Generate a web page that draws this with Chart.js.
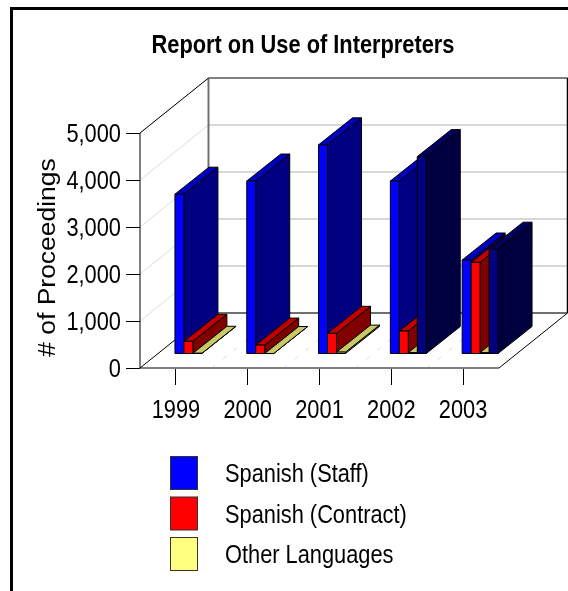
<!DOCTYPE html>
<html>
<head>
<meta charset="utf-8">
<title>Report on Use of Interpreters</title>
<style>
  html, body { margin: 0; padding: 0; background: #fff; }
  canvas { display: block; }
</style>
<script src="https://cdn.jsdelivr.net/npm/chart.js@4"></script>
</head>
<body>
<canvas id="chart" width="568" height="591"></canvas>
<script>
var years = ["1999", "2000", "2001", "2002", "2003"];
var yTickLabels = ["0", "1,000", "2,000", "3,000", "4,000", "5,000"];

var spanishStaff = [3400, 3680, 4450, 3680, 2000];
var spanishContract = [270, 190, 440, 490, 1950];
var otherLanguages = [15, 10, 40, 30, 30];
var unlabeledSeries = [null, null, null, 4200, 2230];

var FONT = '"Liberation Sans", Arial, sans-serif';

// Offsets for the oblique projection: the whole depth of the box,
// then where the bars start and end inside it
var BOX_DX = 68.5, BOX_DY = -55;
var BAR_NEAR_DX = 17, BAR_NEAR_DY = -14;
var BAR_DX = 34, BAR_DY = -27;

function line(ctx, x1, y1, x2, y2, color, width, dash) {
    ctx.save();
    ctx.beginPath();
    ctx.strokeStyle = color;
    ctx.lineWidth = width;
    ctx.setLineDash(dash || []);
    ctx.moveTo(x1, y1);
    ctx.lineTo(x2, y2);
    ctx.stroke();
    ctx.restore();
}

function poly(ctx, pts, fill) {
    ctx.beginPath();
    ctx.moveTo(pts[0][0], pts[0][1]);
    for (var i = 1; i < pts.length; i++) ctx.lineTo(pts[i][0], pts[i][1]);
    ctx.closePath();
    ctx.fillStyle = fill;
    ctx.fill();
    ctx.strokeStyle = "#000";
    ctx.lineWidth = 1;
    ctx.stroke();
}

// No narrow face is installed, so squeeze the normal one sideways
function narrowText(ctx, text, x, y, align, font) {
    ctx.save();
    ctx.translate(x, y + 2);
    ctx.scale(0.82, 1);
    ctx.font = font;
    ctx.textAlign = align;
    ctx.textBaseline = "middle";
    ctx.fillStyle = "#000";
    ctx.fillText(text, 0, 0);
    ctx.restore();
}

// Walls, floor and grid of the box
function drawBox(chart) {
    var ctx = chart.ctx, a = chart.chartArea, y = chart.scales.y, x = chart.scales.x;
    var backL = a.left + BOX_DX, backR = a.right + BOX_DX;
    var backBottom = a.bottom + BOX_DY, backTop = a.top + BOX_DY;

    y.ticks.forEach(function (t) {
        var py = y.getPixelForValue(t.value);
        if (t.value > 0) {
            line(ctx, a.left, py, backL, py + BOX_DY, "#dcdcdc", 1);
            line(ctx, backL, py + BOX_DY, backR, py + BOX_DY, "#d8d8d8", 2);
        }
    });

    // dotted floor lines between the categories
    for (var i = 1; i < years.length; i++) {
        var fx = (x.getPixelForValue(i - 1) + x.getPixelForValue(i)) / 2;
        line(ctx, fx, a.bottom, fx + BOX_DX, backBottom, "#d8d8d8", 1, [4, 10]);
    }

    line(ctx, backL, backTop, backR, backTop, "#808080", 2);
    line(ctx, backL, backTop, backL, backBottom, "#707070", 2);
    line(ctx, backL, backBottom, backR, backBottom, "#707070", 2);
    line(ctx, a.left, a.bottom, a.right, a.bottom, "#808080", 2);
    line(ctx, backR, backTop, backR, backBottom, "#000", 1.5);
    line(ctx, a.left, a.top, a.left, a.bottom, "#000", 1);
    line(ctx, a.left, a.top, backL, backTop, "#000", 1);
    line(ctx, a.left, a.bottom, backL, backBottom, "#000", 1);
    line(ctx, a.right, a.bottom, backR, backBottom, "#000", 1);
}

function drawBar(ctx, bar, colors) {
    var left = bar.x - bar.width / 2 + BAR_NEAR_DX;
    var right = left + bar.width;
    var top = bar.y + BAR_NEAR_DY;
    var bottom = bar.base + BAR_NEAR_DY;

    poly(ctx, [[right, top], [right + BAR_DX, top + BAR_DY], [right + BAR_DX, bottom + BAR_DY], [right, bottom]], colors.side);
    poly(ctx, [[left, top], [left + BAR_DX, top + BAR_DY], [right + BAR_DX, top + BAR_DY], [right, top]], colors.top);
    poly(ctx, [[left, top], [right, top], [right, bottom], [left, bottom]], colors.front);
}

var extrudedBars = {
    id: "extrudedBars",
    beforeDatasetsDraw: function (chart) {
        var ctx = chart.ctx;
        drawBox(chart);
        // back to front is simply left to right here
        years.forEach(function (year, i) {
            chart.data.datasets.forEach(function (ds, d) {
                if (ds.data[i] === null) return;
                drawBar(ctx, chart.getDatasetMeta(d).data[i], ds.faces);
            });
        });
        return false;
    }
};

var pageText = {
    id: "pageText",
    afterDraw: function (chart) {
        var ctx = chart.ctx, x = chart.scales.x, y = chart.scales.y;
        var labelFont = "26.6px " + FONT;
        ctx.save();

        // black frame along the top and left of the page
        ctx.fillStyle = "#000";
        ctx.fillRect(10, 7, 558, 3);
        ctx.fillRect(10, 7, 3, 584);

        narrowText(ctx, "Report on Use of Interpreters", 303, 44, "center", "bold 26.6px " + FONT);

        // tick labels follow the scales' own ticks
        x.ticks.forEach(function (t, i) {
            narrowText(ctx, years[t.value], x.getPixelForTick(i), 409, "center", labelFont);
        });
        y.ticks.forEach(function (t, i) {
            narrowText(ctx, yTickLabels[i], 121, y.getPixelForValue(t.value), "right", labelFont);
        });

        // axis title, a little stretched along its length
        ctx.save();
        ctx.translate(49, 257.5);
        ctx.rotate(-Math.PI / 2);
        ctx.scale(1.15, 1);
        ctx.font = "23px " + FONT;
        ctx.textAlign = "center";
        ctx.textBaseline = "middle";
        ctx.fillText("# of Proceedings", 0, 0);
        ctx.restore();

        // legend, without the fourth series
        chart.data.datasets.slice(0, 3).forEach(function (ds, i) {
            var top = 456.5 + i * 40.5;
            ctx.fillStyle = ds.faces.front;
            ctx.fillRect(170.5, top, 27, 33);
            ctx.strokeStyle = "#333";
            ctx.lineWidth = 1;
            ctx.strokeRect(170.5, top, 27, 33);
            narrowText(ctx, ds.label, 225, top + 16.5, "left", labelFont);
        });
        ctx.restore();
    }
};

function series(label, data, front, top, side) {
    return {
        label: label,
        data: data,
        backgroundColor: front,
        faces: { front: front, top: top, side: side }
    };
}

new Chart(document.getElementById("chart").getContext("2d"), {
    type: "bar",
    data: {
        labels: years,
        datasets: [
            series("Spanish (Staff)", spanishStaff, "#0000ff", "#0000c0", "#000080"),
            series("Spanish (Contract)", spanishContract, "#ff0000", "#c00000", "#800000"),
            series("Other Languages", otherLanguages, "#ffff80", "#c8c864", "#808040"),
            series("Other", unlabeledSeries, "#000080", "#000060", "#000040")
        ]
    },
    options: {
        responsive: false,
        animation: false,
        events: [],
        categoryPercentage: 0.5,
        barPercentage: 1,
        layout: { padding: { top: 133, right: 69, left: 0, bottom: 0 } },
        plugins: {
            legend: { display: false },
            title: { display: false },
            tooltip: { enabled: false }
        },
        scales: {
            x: {
                afterFit: function (scale) { scale.height = 223; },
                border: { display: false },
                grid: { drawOnChartArea: false, offset: false, tickLength: 17, color: "#000" },
                ticks: { display: false, autoSkip: false }
            },
            y: {
                min: 0,
                max: 5000,
                afterFit: function (scale) { scale.width = 140; },
                border: { display: false },
                grid: { drawOnChartArea: false, tickLength: 14, color: "#000" },
                ticks: { display: false, stepSize: 1000 }
            }
        }
    },
    plugins: [extrudedBars, pageText]
});
</script>
</body>
</html>
